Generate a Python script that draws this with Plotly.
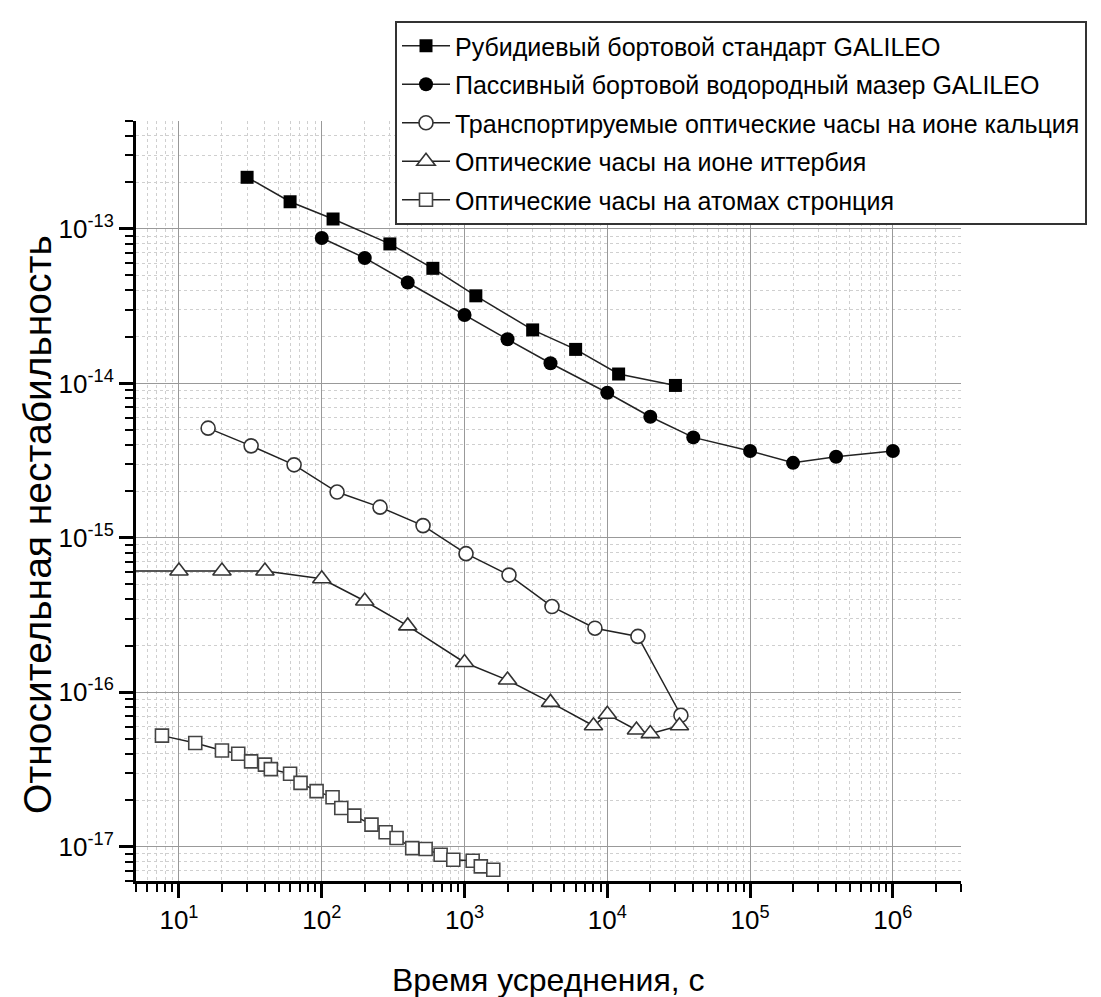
import numpy as np
import plotly.graph_objects as go

# ---- data ----
rb_tau = [30, 60, 120, 300, 600, 1200, 3000, 6000, 12000, 30000]
rb_adev = [2.16e-13, 1.50e-13, 1.16e-13, 8.0e-14, 5.56e-14, 3.69e-14, 2.22e-14, 1.66e-14, 1.15e-14, 9.7e-15]

phm_tau = [100, 200, 400, 1000, 2000, 4000, 10000, 20000, 40000, 1e5, 2e5, 4e5, 1e6]
phm_adev = [8.74e-14, 6.49e-14, 4.5e-14, 2.77e-14, 1.93e-14, 1.35e-14, 8.7e-15, 6.08e-15, 4.47e-15,
            3.65e-15, 3.06e-15, 3.35e-15, 3.65e-15]

ca_tau = [16, 32, 64, 128, 256, 512, 1024, 2048, 4096, 8192, 16384, 32768]
ca_adev = [5.13e-15, 3.94e-15, 2.97e-15, 1.98e-15, 1.58e-15, 1.2e-15, 7.9e-16, 5.74e-16, 3.59e-16,
           2.6e-16, 2.3e-16, 7.1e-17]

yb_tau = [3, 10, 20, 40, 100, 200, 400, 1000, 2000, 4000, 8000, 10000, 16000, 20000, 32000]
yb_adev = [6.1e-16, 6.1e-16, 6.1e-16, 6.1e-16, 5.43e-16, 3.9e-16, 2.69e-16, 1.56e-16, 1.2e-16, 8.6e-17,
           6.07e-17, 7.2e-17, 5.7e-17, 5.4e-17, 6.07e-17]

sr_tau = [7.6, 13, 20, 26, 32, 40, 44, 60, 71, 92, 119, 137, 169, 223, 280, 334, 430, 534, 680, 834,
          1140, 1300, 1590]
sr_adev = [5.24e-17, 4.7e-17, 4.2e-17, 4.0e-17, 3.57e-17, 3.4e-17, 3.18e-17, 2.97e-17, 2.59e-17, 2.29e-17,
           2.09e-17, 1.78e-17, 1.59e-17, 1.39e-17, 1.24e-17, 1.14e-17, 9.8e-18, 9.66e-18, 8.88e-18,
           8.23e-18, 8.11e-18, 7.46e-18, 7.1e-18]

names = [
    "Рубидиевый бортовой стандарт GALILEO",
    "Пассивный бортовой водородный мазер GALILEO",
    "Транспортируемые оптические часы на ионе кальция",
    "Оптические часы на ионе иттербия",
    "Оптические часы на атомах стронция",
]

x_title = "Время усреднения, с"
y_title = "Относительная нестабильность"

x_tickvals = [1e1, 1e2, 1e3, 1e4, 1e5, 1e6]
x_ticktext = ["10<sup>1</sup>", "10<sup>2</sup>", "10<sup>3</sup>", "10<sup>4</sup>",
              "10<sup>5</sup>", "10<sup>6</sup>"]
y_tickvals = [1e-17, 1e-16, 1e-15, 1e-14, 1e-13]
y_ticktext = ["10<sup>-17</sup>", "10<sup>-16</sup>", "10<sup>-15</sup>", "10<sup>-14</sup>",
              "10<sup>-13</sup>"]

x_range = [5, 3e6]
y_range = [6e-18, 5e-13]

FONT = "Liberation Sans, Arial, sans-serif"

# plot-area geometry (pixels)
L, R, T, B = 128, 953, 113, 873
W, H = 1101, 997
PW, PH = R - L, B - T


def px(p):
    return (p - L) / PW


def py(p):
    return (B - p) / PH


fig = go.Figure()

series = [
    (rb_tau, rb_adev, "square", "#000000", "#111111", 13),
    (phm_tau, phm_adev, "circle", "#000000", "#111111", 14),
    (ca_tau, ca_adev, "circle", "#ffffff", "#333333", 14),
    (yb_tau, yb_adev, "triangle-up", "#ffffff", "#333333", 16),
    (sr_tau, sr_adev, "square", "#ffffff", "#444444", 13),
]

for i, (xs, ys, sym, fill, edge, size) in enumerate(series):
    fig.add_trace(go.Scatter(
        x=xs, y=ys, mode="lines+markers", name=names[i],
        legendgroup=f"g{i}",
        line=dict(color="#222222", width=1.5),
        marker=dict(symbol=sym, size=size, color=fill,
                    line=dict(color=edge, width=1.6 if fill == "#ffffff" else 0)),
    ))


def minor_vals(lo, hi):
    vals = []
    for e in range(int(np.floor(np.log10(lo))), int(np.ceil(np.log10(hi))) + 1):
        for d in range(2, 10):
            v = d * 10.0 ** e
            if lo <= v <= hi:
                vals.append(v)
    return vals


common_axis = dict(
    type="log",
    ticks="outside", ticklen=14, tickwidth=2.5, tickcolor="black",
    showline=True, linecolor="black", linewidth=3, mirror=False,
    showgrid=True, gridcolor="#999999", gridwidth=1,
    zeroline=False, automargin=False,
    tickfont=dict(family=FONT, size=26, color="black"),
)

fig.update_xaxes(
    range=[np.log10(x_range[0]), np.log10(x_range[1])],
    tickvals=x_tickvals, ticktext=x_ticktext,
    minor=dict(tickvals=minor_vals(*x_range), ticks="outside", ticklen=8, tickwidth=2,
               tickcolor="black", showgrid=True, gridcolor="#cfcfcf", gridwidth=1, griddash="dot"),
    **common_axis,
)
fig.update_yaxes(
    range=[np.log10(y_range[0]), np.log10(y_range[1])],
    tickvals=y_tickvals, ticktext=y_ticktext,
    minor=dict(tickvals=minor_vals(*y_range), ticks="outside", ticklen=8, tickwidth=2,
               tickcolor="black", showgrid=True, gridcolor="#cfcfcf", gridwidth=1, griddash="dot"),
    **common_axis,
)

fig.add_annotation(
    text=x_title, xref="paper", yref="paper",
    x=px(540), y=py(972),
    xanchor="center", yanchor="middle", showarrow=False,
    font=dict(family=FONT, size=32, color="black"),
)
fig.add_annotation(
    text=y_title, xref="paper", yref="paper",
    x=px(29), y=py(517),
    xanchor="center", yanchor="middle", showarrow=False, textangle=-90,
    font=dict(family=FONT, size=39, color="black"),
)

fig.update_layout(
    width=W, height=H,
    margin=dict(l=L, r=W - R, t=T, b=H - B),
    paper_bgcolor="white", plot_bgcolor="white",
    showlegend=True,
    legend=dict(
        x=px(387), y=py(13), xanchor="left", yanchor="top",
        bgcolor="white", bordercolor="#333333", borderwidth=2,
        font=dict(family=FONT, size=25, color="black"),
        traceorder="grouped", tracegroupgap=3, itemwidth=48,
    ),
)

fig.write_html("out.html")
